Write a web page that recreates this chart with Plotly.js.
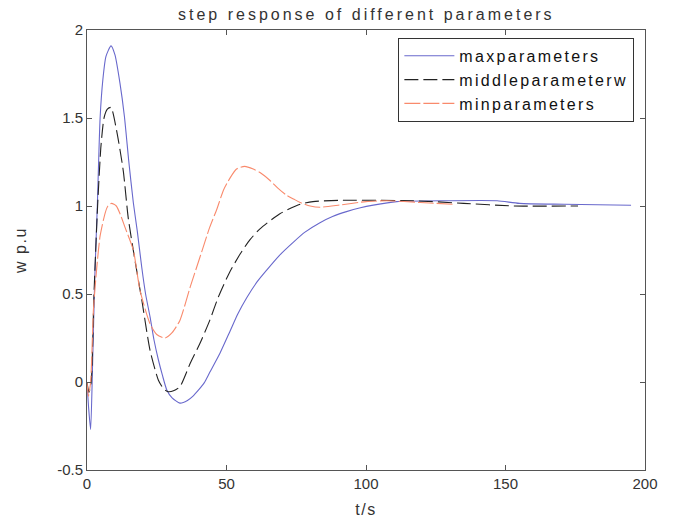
<!DOCTYPE html>
<html>
<head>
<meta charset="utf-8">
<script src="https://cdn.plot.ly/plotly-3.0.1.min.js"></script>
<style>
html,body{margin:0;padding:0;background:#fff;}
#chart{width:674px;height:526px;}
.gtitle{letter-spacing:3px;}
.legendtext{letter-spacing:2.3px;}
.ytitle{letter-spacing:1.5px;}
.xtitle{letter-spacing:1.5px;}
</style>
</head>
<body>
<div id="chart"></div>
<script>
// ----- data -----
const seriesNames = ["maxparameters", "middleparameterw", "minparameters"];

const tMax = [0, 0.6, 1.3, 2, 2.8, 3.7, 4.7, 5.7, 6.8, 8.6, 10, 11.8, 13.4, 15, 16.6, 18, 19.6, 21, 22.6, 24, 25.6, 27, 28.6, 30.5, 33.3, 36, 38, 40, 42, 44, 47.7, 51.3, 54, 57.3, 61, 64.4, 69, 74, 78, 83.5, 88, 93, 98, 102.6, 111, 129, 147, 155, 171, 195];
const yMax = [0, -0.15, -0.27, 0.1, 0.6, 1.0, 1.5, 1.72, 1.85, 1.91, 1.86, 1.7, 1.51, 1.25, 1.02, 0.86, 0.655, 0.5, 0.37, 0.24, 0.125, 0.04, -0.045, -0.09, -0.12, -0.105, -0.08, -0.045, -0.005, 0.055, 0.165, 0.29, 0.385, 0.48, 0.57, 0.636, 0.72, 0.795, 0.85, 0.905, 0.94, 0.968, 0.99, 1.005, 1.025, 1.03, 1.03, 1.015, 1.01, 1.004];

const tMid = [0, 0.7, 1.5, 2.5, 3.8, 5, 6.1, 7.3, 8.6, 10.6, 13, 14.8, 17.2, 19.6, 22.6, 25.6, 27.5, 29.1, 31, 33.3, 37, 40.5, 44, 47, 51, 55, 58.5, 62, 69, 76.4, 81, 90, 117, 135, 153, 176];
const yMid = [0, -0.06, 0, 0.5, 1.0, 1.34, 1.5, 1.55, 1.56, 1.43, 1.2, 0.93, 0.69, 0.47, 0.18, 0.01, -0.04, -0.055, -0.05, -0.027, 0.106, 0.22, 0.35, 0.48, 0.62, 0.73, 0.81, 0.87, 0.955, 1.01, 1.025, 1.032, 1.03, 1.015, 1.0, 1.0];

const tMin = [0, 0.5, 1.3, 2.3, 3.5, 4.7, 6.5, 7.5, 8.8, 10.5, 12, 13.6, 16.6, 19, 22.6, 25, 28, 30.5, 33.3, 37, 40.5, 44, 46.5, 48.9, 51.3, 53.6, 56.5, 59.6, 62, 65.6, 68.5, 71.6, 74, 76.4, 80, 83.5, 90.7, 100, 107.5, 119.5, 131];
const yMin = [0, -0.08, 0.0, 0.41, 0.65, 0.83, 0.96, 1.0, 1.015, 1.0, 0.95, 0.88, 0.75, 0.52, 0.33, 0.27, 0.25, 0.28, 0.35, 0.54, 0.71, 0.88, 0.98, 1.09, 1.16, 1.21, 1.225, 1.21, 1.19, 1.145, 1.1, 1.06, 1.04, 1.02, 1.0, 0.993, 1.006, 1.025, 1.03, 1.02, 1.01];

const xTicks = [0, 50, 100, 150, 200];
const yTicks = [-0.5, 0, 0.5, 1, 1.5, 2];
const yTickLabels = ["-0.5", "0", "0.5", "1", "1.5", "2"];

const FONT = "Liberation Sans, Arial, sans-serif";

const traces = [
  {x: tMax, y: yMax, name: seriesNames[0], mode: "lines", line: {color: "#6868cc", width: 1.1, shape: "spline", smoothing: 0.6}},
  {x: tMid, y: yMid, name: seriesNames[1], mode: "lines", line: {color: "#222222", width: 1.1, dash: "14px,5px", shape: "spline", smoothing: 0.6}},
  {x: tMin, y: yMin, name: seriesNames[2], mode: "lines", line: {color: "#f98a6c", width: 1.1, dash: "16px,3px", shape: "spline", smoothing: 0.6}}
];

const axisCommon = {
  showline: true, linecolor: "#555", linewidth: 1, mirror: "ticks",
  ticks: "inside", ticklen: 5, tickcolor: "#555",
  showgrid: false, zeroline: false,
  tickfont: {family: FONT, size: 15, color: "#333"}
};

const layout = {
  width: 674, height: 526,
  margin: {l: 87, r: 29, t: 30, b: 56},
  paper_bgcolor: "#fff", plot_bgcolor: "#fff",
  font: {family: FONT, color: "#333"},
  title: {text: "step response of different parameters", font: {family: FONT, size: 16, color: "#333"},
          x: 0.5435, xanchor: "center", y: 0.972, yanchor: "middle", yref: "container"},
  xaxis: Object.assign({}, axisCommon, {range: [0, 200], tickvals: xTicks, ticktext: xTicks.map(String),
          title: {text: "t/s", font: {family: FONT, size: 16, color: "#333"}, standoff: 12}}),
  yaxis: Object.assign({}, axisCommon, {range: [-0.5, 2], tickvals: yTicks, ticktext: yTickLabels,
          title: {text: "w p.u", font: {family: FONT, size: 16, color: "#333"}, standoff: 26}}),
  showlegend: true,
  legend: {x: 0.558, xanchor: "left", y: 0.982, yanchor: "top",
           bordercolor: "#333", borderwidth: 1, bgcolor: "#fff",
           font: {family: FONT, size: 16, color: "#111"}, itemwidth: 50, tracegroupgap: 0}
};

Plotly.newPlot("chart", traces, layout, {staticPlot: true, displayModeBar: false});
</script>
</body>
</html>
